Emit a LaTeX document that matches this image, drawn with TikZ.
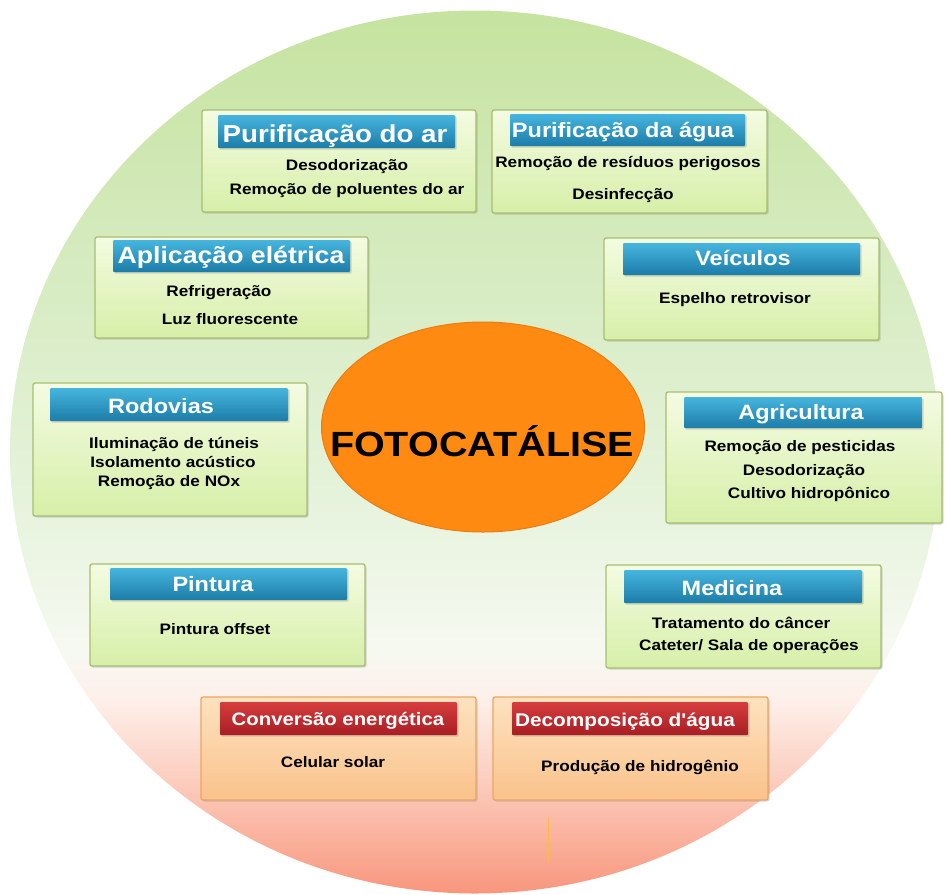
\documentclass[tikz,border=0pt]{standalone}
\usepackage{fontspec}
\newfontfamily\mainf{Liberation Sans}[FakeStretch=1.13]
\usetikzlibrary{shapes.geometric,shadows}
\definecolor{bgA}{RGB}{198,227,160}
\definecolor{bgB}{RGB}{216,236,196}
\definecolor{bgC}{RGB}{230,243,220}
\definecolor{bgD}{RGB}{246,249,241}
\definecolor{bgE}{RGB}{253,240,234}
\definecolor{bgF}{RGB}{252,205,190}
\definecolor{bgG}{RGB}{248,150,125}
\definecolor{gtop}{RGB}{244,251,226}
\definecolor{gbot}{RGB}{214,239,168}
\definecolor{gline}{RGB}{168,190,112}
\definecolor{otop}{RGB}{253,226,190}
\definecolor{obot}{RGB}{250,194,140}
\definecolor{oline}{RGB}{236,166,100}
\definecolor{btop}{RGB}{70,182,222}
\definecolor{bbot}{RGB}{28,124,168}
\definecolor{rtop}{RGB}{214,62,62}
\definecolor{rbot}{RGB}{168,30,36}
\definecolor{orangeC}{RGB}{255,138,18}
\definecolor{orangeL}{RGB}{236,124,16}
\definecolor{tick}{RGB}{250,190,60}
\pgfdeclareverticalshading{bgshade}{100bp}{color(0bp)=(bgG); color(25bp)=(bgG); color(31.4bp)=(bgF); color(36bp)=(bgE); color(38.8bp)=(bgD); color(47.3bp)=(bgC); color(58.6bp)=(bgB); color(75bp)=(bgA); color(100bp)=(bgA)}
\tikzset{
  shad/.style={drop shadow={shadow xshift=1.5pt, shadow yshift=-1.5pt, opacity=0.3}},
  gbox/.style={shad, draw=gline, line width=1.3pt, rounded corners=2pt, top color=gtop, bottom color=gbot, inner sep=0pt},
  obox/.style={shad, draw=oline, line width=1.3pt, rounded corners=2pt, top color=otop, bottom color=obot, inner sep=0pt},
  bhead/.style={shad, rounded corners=1pt, top color=btop, bottom color=bbot, inner sep=0pt},
  rhead/.style={shad, rounded corners=1pt, top color=rtop, bottom color=rbot, inner sep=0pt},
  htext/.style={text=white, inner sep=0pt, anchor=base, font=\mainf\bfseries\fontsize{20.8}{24}\selectfont},
  item/.style={inner sep=0pt, anchor=base, font=\mainf\bfseries\fontsize{15.2}{18}\selectfont},
}
\begin{document}
\begin{tikzpicture}[x=1pt,y=-1pt]
\useasboundingbox (0,0) rectangle (946,895);
\node[ellipse, minimum width=930pt, minimum height=883pt, shading=bgshade, inner sep=0pt] (bg) at (475,452) {};
\coordinate (t1) at (548,818);
\coordinate (t2) at (548,862);
\draw[tick, line width=0.8pt] (t1) -- (t2);
% centre
\node[ellipse, minimum width=323pt, minimum height=210pt, fill=orangeC, draw=orangeL, line width=1pt, inner sep=0pt] (core) at (483,427) {};
\node[inner sep=0pt, anchor=base, font=\mainf\bfseries\fontsize{35}{40}\selectfont] (coret) at (482,456) {FOTOCATÁLISE};
% 1 Purificação do ar
\node[gbox, minimum width=274pt, minimum height=102pt] (b1) at (339,161) {};
\node[bhead, minimum width=237pt, minimum height=33pt] (h1) at (336.5,131.5) {};
\node[htext, font=\mainf\bfseries\fontsize{24.5}{28}\selectfont] (h1t) at (335,142) {Purificação do ar};
\node[item] (i11) at (347,170) {Desodorização};
\node[item] (i12) at (347,194) {Remoção de poluentes do ar};
% 2 Purificação da água
\node[gbox, minimum width=275pt, minimum height=103pt] (b2) at (629.5,161.5) {};
\node[bhead, minimum width=235pt, minimum height=32pt] (h2) at (627.5,130) {};
\node[htext] (h2t) at (623,137) {Purificação da água};
\node[item] (i21) at (628,167) {Remoção de resíduos perigosos};
\node[item] (i22) at (623,199) {Desinfecção};
% 3 Aplicação elétrica
\node[gbox, minimum width=273pt, minimum height=101pt] (b3) at (231.5,287.5) {};
\node[bhead, minimum width=237pt, minimum height=32pt] (h3) at (231.5,256) {};
\node[htext, font=\mainf\bfseries\fontsize{23.6}{27}\selectfont] (h3t) at (231,263) {Aplicação elétrica};
\node[item] (i31) at (219,296) {Refrigeração};
\node[item] (i32) at (230,324) {Luz fluorescente};
% 4 Veículos
\node[gbox, minimum width=275pt, minimum height=102pt] (b4) at (741.5,289) {};
\node[bhead, minimum width=237pt, minimum height=32pt] (h4) at (741.5,259) {};
\node[htext] (h4t) at (743,265) {Veículos};
\node[item] (i41) at (735,303) {Espelho retrovisor};
% 5 Rodovias
\node[gbox, minimum width=274pt, minimum height=133pt] (b5) at (170,449.5) {};
\node[bhead, minimum width=238pt, minimum height=33pt] (h5) at (169,404.5) {};
\node[htext] (h5t) at (161,413) {Rodovias};
\node[item] (i51) at (174,448) {Iluminação de túneis};
\node[item] (i52) at (173,467) {Isolamento acústico};
\node[item] (i53) at (169,486) {Remoção de NOx};
% 6 Agricultura
\node[gbox, minimum width=276pt, minimum height=131pt] (b6) at (804,457.5) {};
\node[bhead, minimum width=238pt, minimum height=31pt] (h6) at (803,412.5) {};
\node[htext] (h6t) at (801,419) {Agricultura};
\node[item] (i61) at (800,451) {Remoção de pesticidas};
\node[item] (i62) at (804,475) {Desodorização};
\node[item] (i63) at (809,498) {Cultivo hidropônico};
% 7 Pintura
\node[gbox, minimum width=275pt, minimum height=102pt] (b7) at (227.5,615) {};
\node[bhead, minimum width=237pt, minimum height=32pt] (h7) at (228.5,584) {};
\node[htext] (h7t) at (213,591) {Pintura};
\node[item] (i71) at (215,634) {Pintura offset};
% 8 Medicina
\node[gbox, minimum width=275pt, minimum height=103pt] (b8) at (743.5,616.5) {};
\node[bhead, minimum width=238pt, minimum height=33pt] (h8) at (743,586.5) {};
\node[htext] (h8t) at (732,595) {Medicina};
\node[item] (i81) at (741,628) {Tratamento do câncer};
\node[item] (i82) at (749,650) {Cateter/ Sala de operações};
% 9 Conversão energética
\node[obox, minimum width=275pt, minimum height=103pt] (b9) at (338.5,748.5) {};
\node[rhead, minimum width=237pt, minimum height=33pt] (h9) at (338.5,718.5) {};
\node[htext, font=\mainf\bfseries\fontsize{18}{22}\selectfont] (h9t) at (338,725) {Conversão energética};
\node[item] (i91) at (333,767) {Celular solar};
% 10 Decomposição d'água
\node[obox, minimum width=275pt, minimum height=103pt] (b10) at (630.5,748.5) {};
\node[rhead, minimum width=236pt, minimum height=33pt] (h10) at (630,718.5) {};
\node[htext, font=\mainf\bfseries\fontsize{18.4}{22}\selectfont] (h10t) at (625,726) {Decomposição d'água};
\node[item] (i101) at (640,771) {Produção de hidrogênio};
\end{tikzpicture}
\end{document}
